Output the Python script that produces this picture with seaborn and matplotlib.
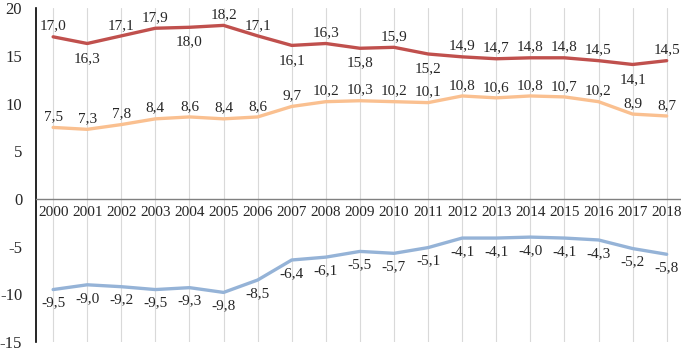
import matplotlib
matplotlib.use("Agg")
import matplotlib.pyplot as plt
import seaborn as sns
import pandas as pd

years = [str(y) for y in range(2000, 2019)]
top = [17.0, 16.3, 17.1, 17.9, 18.0, 18.2, 17.1, 16.1, 16.3, 15.8, 15.9, 15.2,
       14.9, 14.7, 14.8, 14.8, 14.5, 14.1, 14.5]
mid = [7.5, 7.3, 7.8, 8.4, 8.6, 8.4, 8.6, 9.7, 10.2, 10.3, 10.2, 10.1,
       10.8, 10.6, 10.8, 10.7, 10.2, 8.9, 8.7]
bottom = [-9.5, -9.0, -9.2, -9.5, -9.3, -9.8, -8.5, -6.4, -6.1, -5.5, -5.7, -5.1,
          -4.1, -4.1, -4.0, -4.1, -4.3, -5.2, -5.8]
yticks = [-15, -10, -5, 0, 5, 10, 15, 20]

top_below = {1, 4, 7, 9, 11, 17}

sns.set_theme(style="white")
plt.rcParams['font.family'] = ['Liberation Serif', 'DejaVu Serif']

fig = plt.figure(figsize=(6.81, 3.51), dpi=100)
ax = fig.add_axes([0.053, 0.0256, 0.951, 0.951])

x = list(range(len(years)))
df = pd.DataFrame({"x": x, "top": top, "mid": mid, "bottom": bottom})

for i in x:
    ax.axvline(i, color="#d9d9d9", lw=0.8, zorder=0)

sns.lineplot(data=df, x="x", y="top", ax=ax, color="#c0504d", lw=2.4)
sns.lineplot(data=df, x="x", y="mid", ax=ax, color="#fac090", lw=2.4)
sns.lineplot(data=df, x="x", y="bottom", ax=ax, color="#95b3d7", lw=2.4)

fs = 11
for i in x:
    if i in top_below:
        ax.annotate(f"{top[i]:.1f}".replace(".", ","), (i, top[i]), xytext=(0, -6),
                    textcoords="offset points", ha="center", va="top", fontsize=fs)
    else:
        ax.annotate(f"{top[i]:.1f}".replace(".", ","), (i, top[i]), xytext=(0, 3),
                    textcoords="offset points", ha="center", va="bottom", fontsize=fs)
    ax.annotate(f"{mid[i]:.1f}".replace(".", ","), (i, mid[i]), xytext=(0, 3),
                textcoords="offset points", ha="center", va="bottom", fontsize=fs)
    ax.annotate(f"{bottom[i]:.1f}".replace(".", ","), (i, bottom[i]), xytext=(0, -5),
                textcoords="offset points", ha="center", va="top", fontsize=fs)

ax.set_xlim(-0.5, 18.5)
ax.set_ylim(-15, 20)
ax.set_yticks(yticks)
ax.set_yticklabels([str(v) for v in yticks], fontsize=12)
ax.set_xticks(x)
ax.set_xticklabels(years, fontsize=11.5)
ax.spines['bottom'].set_position(('data', 0))
ax.spines['bottom'].set_color("#808080")
ax.spines['bottom'].set_linewidth(1.0)
ax.spines['left'].set_color("black")
ax.spines['left'].set_linewidth(1.2)
ax.spines['top'].set_visible(False)
ax.spines['right'].set_visible(False)
ax.tick_params(axis='x', length=0, pad=5)
ax.tick_params(axis='y', length=0, pad=10)
ax.set_xlabel("")
ax.set_ylabel("")

fig.savefig("out.png", dpi=100)
